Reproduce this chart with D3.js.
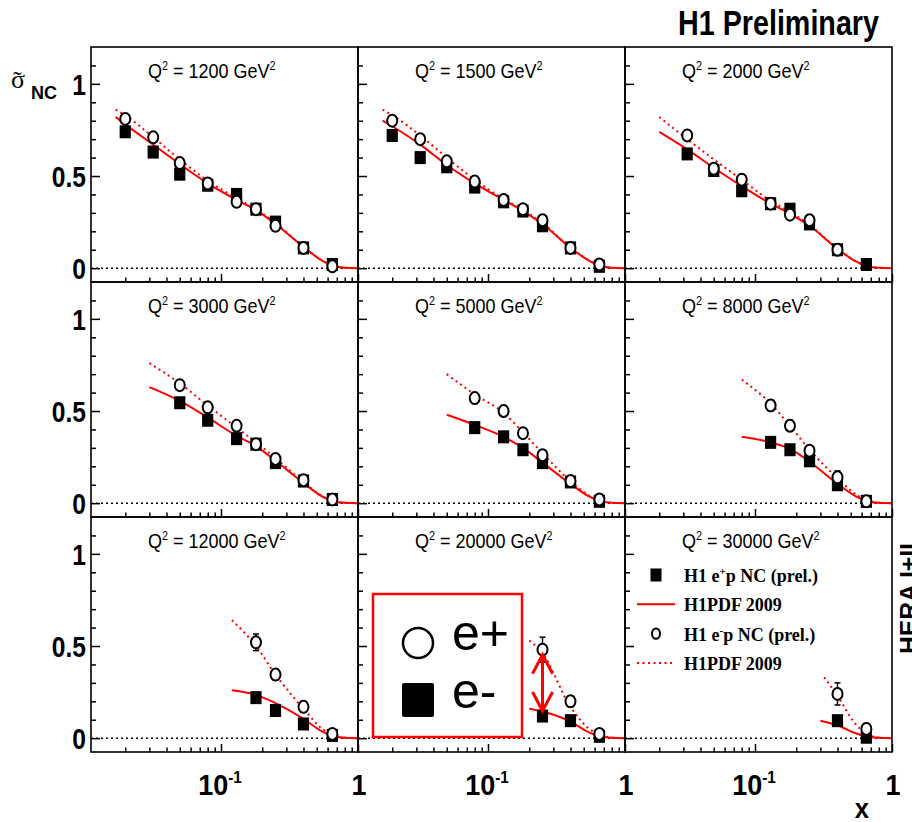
<!DOCTYPE html>
<html>
<head>
<meta charset="utf-8">
<script src="https://cdn.jsdelivr.net/npm/d3@7"></script>
<style>
  body { margin: 0; background: #fff; }
  svg { display: block; }
</style>
</head>
<body>
<svg id="chart" width="912" height="822"></svg>
<script>
// x bins shared by all Q^2 panels
const xBins = [0.02, 0.032, 0.05, 0.08, 0.13, 0.18, 0.25, 0.4, 0.65];
const q2Values = [1200, 1500, 2000, 3000, 5000, 8000, 12000, 20000, 30000];

// H1 e+p NC (prel.) reduced cross sections, filled squares
const epSigma = [
  [0.74, 0.63, 0.51, 0.45, 0.40, 0.32, 0.25, 0.11, 0.02],
  [0.72, 0.60, 0.55, 0.44, 0.36, 0.31, 0.23, 0.11, 0.01],
  [null, 0.62, 0.53, 0.42, 0.35, 0.32, 0.24, 0.10, 0.02],
  [null, null, 0.545, 0.45, 0.35, 0.32, 0.22, 0.12, 0.02],
  [null, null, null, 0.41, 0.36, 0.29, 0.22, 0.115, 0.01],
  [null, null, null, null, 0.33, 0.29, 0.23, 0.10, 0.01],
  [null, null, null, null, null, 0.22, 0.15, 0.077, 0.015],
  [null, null, null, null, null, null, 0.12, 0.095, 0.01],
  [null, null, null, null, null, null, null, 0.095, 0.005]
];
const epError = [
  [0.02, 0.02, 0.02, 0.02, 0.02, 0.02, 0.02, 0.015, 0.01],
  [0.02, 0.02, 0.02, 0.02, 0.02, 0.02, 0.02, 0.015, 0.01],
  [null, 0.02, 0.02, 0.02, 0.02, 0.02, 0.02, 0.015, 0.01],
  [null, null, 0.02, 0.02, 0.02, 0.02, 0.02, 0.015, 0.01],
  [null, null, null, 0.02, 0.02, 0.02, 0.02, 0.015, 0.01],
  [null, null, null, null, 0.02, 0.02, 0.02, 0.015, 0.01],
  [null, null, null, null, null, 0.025, 0.02, 0.015, 0.01],
  [null, null, null, null, null, null, 0.025, 0.02, 0.01],
  [null, null, null, null, null, null, null, 0.025, 0.01]
];

// H1 e-p NC (prel.) reduced cross sections, open circles
const emSigma = [
  [0.81, 0.71, 0.57, 0.46, 0.36, 0.32, 0.23, 0.11, 0.01],
  [0.80, 0.70, 0.58, 0.47, 0.37, 0.32, 0.26, 0.11, 0.02],
  [null, 0.72, 0.54, 0.48, 0.35, 0.29, 0.26, 0.10, null],
  [null, null, 0.64, 0.52, 0.42, 0.32, 0.24, 0.125, 0.02],
  [null, null, null, 0.57, 0.50, 0.38, 0.26, 0.12, 0.02],
  [null, null, null, null, 0.53, 0.42, 0.285, 0.14, 0.01],
  [null, null, null, null, null, 0.52, 0.345, 0.17, 0.023],
  [null, null, null, null, null, null, 0.48, 0.20, 0.023],
  [null, null, null, null, null, null, null, 0.24, 0.05]
];
const emError = [
  [0.02, 0.02, 0.02, 0.02, 0.02, 0.02, 0.02, 0.015, 0.01],
  [0.02, 0.02, 0.02, 0.02, 0.02, 0.02, 0.02, 0.015, 0.01],
  [null, 0.025, 0.02, 0.02, 0.02, 0.02, 0.02, 0.015, null],
  [null, null, 0.025, 0.02, 0.02, 0.02, 0.02, 0.015, 0.01],
  [null, null, null, 0.03, 0.03, 0.025, 0.02, 0.015, 0.01],
  [null, null, null, null, 0.03, 0.03, 0.025, 0.035, 0.01],
  [null, null, null, null, null, 0.045, 0.03, 0.03, 0.01],
  [null, null, null, null, null, null, 0.068, 0.03, 0.015],
  [null, null, null, null, null, null, null, 0.06, 0.03]
];

// H1PDF 2009 predictions: solid for e+p, dotted for e-p, as [x, sigma]
const epFit = [
  [[0.017,0.82],[0.02,0.78],[0.032,0.67],[0.05,0.565],[0.08,0.46],[0.13,0.37],[0.18,0.315],[0.25,0.24],[0.4,0.115],[0.55,0.04],[0.65,0.015],[0.8,0.002],[1,0]],
  [[0.017,0.80],[0.02,0.77],[0.032,0.67],[0.05,0.56],[0.08,0.46],[0.13,0.37],[0.18,0.31],[0.25,0.24],[0.4,0.11],[0.55,0.04],[0.65,0.015],[0.8,0.002],[1,0]],
  [[0.02,0.74],[0.032,0.645],[0.05,0.545],[0.08,0.445],[0.13,0.35],[0.18,0.295],[0.25,0.23],[0.4,0.105],[0.55,0.035],[0.65,0.012],[0.8,0.002],[1,0]],
  [[0.03,0.63],[0.05,0.555],[0.08,0.465],[0.13,0.365],[0.18,0.31],[0.25,0.23],[0.4,0.11],[0.55,0.035],[0.65,0.012],[0.8,0.002],[1,0]],
  [[0.05,0.48],[0.08,0.425],[0.13,0.36],[0.18,0.30],[0.25,0.22],[0.4,0.105],[0.55,0.035],[0.65,0.012],[0.8,0.002],[1,0]],
  [[0.08,0.36],[0.13,0.33],[0.18,0.295],[0.25,0.225],[0.4,0.105],[0.55,0.035],[0.65,0.012],[0.8,0.002],[1,0]],
  [[0.12,0.26],[0.18,0.235],[0.25,0.19],[0.4,0.105],[0.55,0.035],[0.65,0.012],[0.8,0.002],[1,0]],
  [[0.2,0.16],[0.25,0.145],[0.4,0.09],[0.55,0.03],[0.65,0.012],[0.8,0.002],[1,0]],
  [[0.3,0.095],[0.4,0.07],[0.55,0.025],[0.65,0.01],[0.8,0.002],[1,0]]
];
const emFit = [
  [[0.017,0.86],[0.02,0.83],[0.032,0.71],[0.05,0.59],[0.08,0.475],[0.13,0.38],[0.18,0.32],[0.25,0.245],[0.4,0.115],[0.55,0.04],[0.65,0.015],[0.8,0.002],[1,0]],
  [[0.017,0.86],[0.02,0.83],[0.032,0.72],[0.05,0.60],[0.08,0.48],[0.13,0.375],[0.18,0.315],[0.25,0.245],[0.4,0.11],[0.55,0.04],[0.65,0.015],[0.8,0.002],[1,0]],
  [[0.02,0.82],[0.032,0.70],[0.05,0.59],[0.08,0.48],[0.13,0.365],[0.18,0.305],[0.25,0.235],[0.4,0.105],[0.55,0.035],[0.65,0.012],[0.8,0.002],[1,0]],
  [[0.03,0.76],[0.05,0.65],[0.08,0.53],[0.13,0.41],[0.18,0.33],[0.25,0.245],[0.4,0.115],[0.55,0.037],[0.65,0.013],[0.8,0.002],[1,0]],
  [[0.05,0.70],[0.08,0.59],[0.13,0.49],[0.18,0.385],[0.25,0.27],[0.4,0.12],[0.55,0.04],[0.65,0.015],[0.8,0.002],[1,0]],
  [[0.08,0.67],[0.13,0.54],[0.18,0.42],[0.25,0.29],[0.4,0.135],[0.55,0.045],[0.65,0.015],[0.8,0.002],[1,0]],
  [[0.12,0.64],[0.18,0.50],[0.25,0.345],[0.4,0.16],[0.55,0.05],[0.65,0.02],[0.8,0.003],[1,0]],
  [[0.2,0.53],[0.25,0.46],[0.4,0.17],[0.55,0.05],[0.65,0.02],[0.8,0.003],[1,0]],
  [[0.32,0.33],[0.4,0.23],[0.53,0.085],[0.65,0.025],[0.8,0.003],[1,0]]
];

// axis ticks
const yMajorTicks = [0, 0.5, 1];
const yMinorTicks = [0.1, 0.2, 0.3, 0.4, 0.6, 0.7, 0.8, 0.9, 1.1];
const yTickLabels = ["0", "0.5", "1"];
const xMajorTicks = [0.1, 1];
const xMinorTicks = [0.02, 0.03, 0.04, 0.05, 0.06, 0.07, 0.08, 0.09, 0.2, 0.3, 0.4, 0.5, 0.6, 0.7, 0.8, 0.9];

// legend entries
const legendEntries = [
  { kind: "square", pre: "H1 e", sup: "+", post: "p NC (prel.)" },
  { kind: "solid", pre: "H1PDF 2009", sup: "", post: "" },
  { kind: "circle", pre: "H1 e", sup: "-", post: "p NC (prel.)" },
  { kind: "dotted", pre: "H1PDF 2009", sup: "", post: "" }
];

const svg = d3.select("#chart");
const sans = '"Liberation Sans", Arial, Helvetica, sans-serif';
const serif = '"Liberation Serif", "Times New Roman", serif';
const red = "#ff0000";

const left0 = 91, top0 = 47, pw = 267, ph = 235;
const xDomain = [0.01125, 1];
const yDomain = [-0.075, 1.2];

// text squeezed horizontally, like the condensed Helvetica of the plot
function squeezed(parent, x, y, sx, size, weight, anchor) {
  return parent.append("text")
    .attr("transform", `translate(${x},${y}) scale(${sx},1)`)
    .attr("font-family", sans)
    .attr("font-size", size)
    .attr("font-weight", weight)
    .attr("text-anchor", anchor)
    .attr("fill", "#000");
}

const panels = [];

q2Values.forEach((q2, i) => {
  const col = i % 3, row = Math.floor(i / 3);
  const x0 = left0 + col * pw, y0 = top0 + row * ph;
  const x = d3.scaleLog().domain(xDomain).range([x0, x0 + pw]);
  const y = d3.scaleLinear().domain(yDomain).range([y0 + ph, y0]);
  panels.push({ x, y, x0, y0, col, row });
  const g = svg.append("g").attr("class", "panel");

  // zero line
  g.append("line")
    .attr("x1", x0).attr("x2", x0 + pw)
    .attr("y1", y(0)).attr("y2", y(0))
    .attr("stroke", "#000").attr("stroke-width", 1.5)
    .attr("stroke-dasharray", "2,3");

  // inward ticks on the left and bottom edges
  const tickStyle = s => {
    s.select(".domain").remove();
    s.selectAll("line").attr("stroke-width", 1.5);
  };
  g.append("g").attr("transform", `translate(${x0},0)`)
    .call(d3.axisRight(y).tickValues(yMajorTicks).tickSize(9).tickFormat(""))
    .call(tickStyle);
  g.append("g").attr("transform", `translate(${x0},0)`)
    .call(d3.axisRight(y).tickValues(yMinorTicks).tickSize(5).tickFormat(""))
    .call(tickStyle);
  g.append("g").attr("transform", `translate(0,${y0 + ph})`)
    .call(d3.axisTop(x).tickValues(xMajorTicks).tickSize(8).tickFormat(""))
    .call(tickStyle);
  g.append("g").attr("transform", `translate(0,${y0 + ph})`)
    .call(d3.axisTop(x).tickValues(xMinorTicks).tickSize(4.5).tickFormat(""))
    .call(tickStyle);

  // predictions
  const line = d3.line().x(d => x(d[0])).y(d => y(d[1])).curve(d3.curveMonotoneX);
  g.append("path").datum(emFit[i]).attr("d", line)
    .attr("fill", "none").attr("stroke", red).attr("stroke-width", 2)
    .attr("stroke-dasharray", "2,3.5");
  g.append("path").datum(epFit[i]).attr("d", line)
    .attr("fill", "none").attr("stroke", red).attr("stroke-width", 2);

  const pts = (vals, errs) => xBins.map((xv, j) => ({ x: xv, v: vals[i][j], e: errs[i][j] }))
    .filter(d => d.v !== null);
  const epPts = pts(epSigma, epError);
  const emPts = pts(emSigma, emError);

  // error bars
  const drawErr = data => {
    const eg = g.append("g").attr("stroke", "#000").attr("stroke-width", 1.5);
    data.forEach(d => {
      const cx = x(d.x), ya = y(d.v + d.e), yb = y(d.v - d.e);
      eg.append("line").attr("x1", cx).attr("x2", cx).attr("y1", ya).attr("y2", yb);
      eg.append("line").attr("x1", cx - 3).attr("x2", cx + 3).attr("y1", ya).attr("y2", ya);
      eg.append("line").attr("x1", cx - 3).attr("x2", cx + 3).attr("y1", yb).attr("y2", yb);
    });
  };
  drawErr(epPts);
  drawErr(emPts);

  // filled squares, then open circles above them
  g.selectAll("rect.ep").data(epPts).join("rect").attr("class", "ep")
    .attr("x", d => x(d.x) - 5.6).attr("y", d => y(d.v) - 6.5)
    .attr("width", 11.2).attr("height", 13).attr("fill", "#000");
  g.selectAll("ellipse.em").data(emPts).join("ellipse").attr("class", "em")
    .attr("cx", d => x(d.x)).attr("cy", d => y(d.v))
    .attr("rx", 5).attr("ry", 6)
    .attr("fill", "#fff").attr("stroke", "#000").attr("stroke-width", 2);

  // panel label
  const lab = squeezed(g, x0 + 57, y0 + 31, 0.9, 20, "normal", "start");
  lab.append("tspan").text("Q");
  lab.append("tspan").attr("font-size", 12).attr("dy", -8).text("2");
  lab.append("tspan").attr("dy", 8).text(` = ${q2} GeV`);
  lab.append("tspan").attr("font-size", 12).attr("dy", -8).text("2");

  // frame
  g.append("rect").attr("x", x0).attr("y", y0).attr("width", pw).attr("height", ph)
    .attr("fill", "none").attr("stroke", "#000").attr("stroke-width", 1.6);
});

// y tick labels on the left column
panels.filter(p => p.col === 0).forEach(p => {
  yMajorTicks.forEach((v, k) => {
    squeezed(svg, 86, p.y(v) + 11, 0.82, 30, "bold", "end").text(yTickLabels[k]);
  });
});

// x tick labels under the bottom row
panels.filter(p => p.row === 2).forEach(p => {
  const t = squeezed(svg, p.x(0.1) - 1, 795, 0.9, 30, "bold", "middle");
  t.append("tspan").text("10");
  t.append("tspan").attr("font-size", 17).attr("dy", -12).text("-1");
  squeezed(svg, p.x(1) + 1, 795, 0.9, 30, "bold", "middle").text("1");
});

// axis title: sigma with a tilde above it and the NC subscript
const sig = svg.append("text").attr("x", 11).attr("y", 88);
sig.append("tspan").attr("font-family", serif).attr("font-size", 26).text("σ");
sig.append("tspan").attr("dx", -12).attr("dy", 1).attr("font-family", serif)
  .attr("font-size", 26).text("\u02DC");
sig.append("tspan").attr("x", 31).attr("y", 99).attr("font-family", sans)
  .attr("font-size", 18).attr("font-weight", "bold").text("NC");
squeezed(svg, 869, 818, 0.95, 27, "bold", "end").text("x");

// title and side label
squeezed(svg, 678, 35, 0.82, 35, "bold", "start").text("H1 Preliminary");
svg.append("text")
  .attr("transform", "translate(917,654) rotate(-90)")
  .attr("font-family", sans).attr("font-size", 24).attr("font-weight", "bold")
  .attr("textLength", 111).attr("lengthAdjust", "spacingAndGlyphs")
  .text("HERA I+II");

// legend in the last panel
const lg = svg.append("g");
const legX = 656, legY0 = 575, legDy = 29.3;
legendEntries.forEach((e, k) => {
  const cy = legY0 + k * legDy;
  if (e.kind === "square") {
    lg.append("rect").attr("x", legX - 5.5).attr("y", cy - 6.5).attr("width", 11).attr("height", 13).attr("fill", "#000");
  } else if (e.kind === "circle") {
    lg.append("ellipse").attr("cx", legX).attr("cy", cy).attr("rx", 4).attr("ry", 5.2)
      .attr("fill", "#fff").attr("stroke", "#000").attr("stroke-width", 2);
  } else {
    lg.append("line").attr("x1", 637).attr("x2", 675).attr("y1", cy).attr("y2", cy)
      .attr("stroke", red).attr("stroke-width", 2)
      .attr("stroke-dasharray", e.kind === "dotted" ? "2,3.5" : null);
  }
  const t = lg.append("text").attr("x", 684).attr("y", cy + 7)
    .attr("font-family", serif).attr("font-size", 18).attr("font-weight", "bold");
  t.append("tspan").text(e.pre);
  if (e.sup) {
    t.append("tspan").attr("font-size", 11).attr("dy", -7).text(e.sup);
    t.append("tspan").attr("dy", 7).text(e.post);
  }
});

// e+ / e- annotation box with the double arrow in the Q^2 = 20000 panel
const pa = panels[7];
const ann = svg.append("g");
ann.append("rect").attr("x", 373).attr("y", 594).attr("width", 149).attr("height", 143)
  .attr("fill", "#fff").attr("stroke", red).attr("stroke-width", 2.5);
ann.append("circle").attr("cx", 418).attr("cy", 643).attr("r", 15)
  .attr("fill", "#fff").attr("stroke", "#000").attr("stroke-width", 2.5);
ann.append("rect").attr("x", 402).attr("y", 683).attr("width", 32).attr("height", 34).attr("rx", 2)
  .attr("fill", "#000");
ann.append("text").attr("x", 452).attr("y", 650).attr("font-family", sans).attr("font-size", 50).text("e+");
ann.append("text").attr("x", 452).attr("y", 708).attr("font-family", sans).attr("font-size", 50).text("e-");

const ax = pa.x(0.25);
const aTop = pa.y(emSigma[7][6]) + 5;
const aBot = pa.y(epSigma[7][6]) - 5;
const arr = svg.append("g").attr("stroke", red).attr("stroke-width", 3).attr("fill", "none");
arr.append("line").attr("x1", ax).attr("x2", ax).attr("y1", aTop).attr("y2", aBot);
arr.append("polyline").attr("points", `${ax - 10},${aTop + 19} ${ax},${aTop} ${ax + 10},${aTop + 19}`);
arr.append("polyline").attr("points", `${ax - 10},${aBot - 19} ${ax},${aBot} ${ax + 10},${aBot - 19}`);
</script>
</body>
</html>
